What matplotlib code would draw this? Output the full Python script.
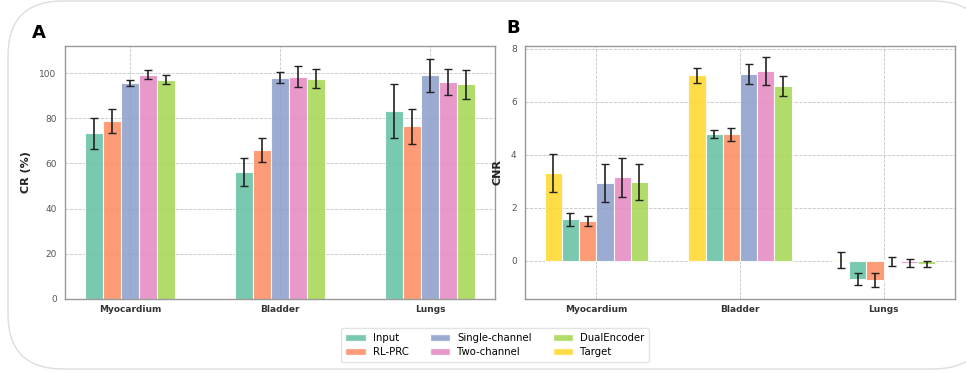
import matplotlib
matplotlib.use("Agg")
import matplotlib.pyplot as plt
from matplotlib.patches import FancyBboxPatch, Patch
import numpy as np

categories = ["Myocardium", "Bladder", "Lungs"]

# Panel A: CR (%)
cr_methods = ["Input", "RL-PRC", "Single-channel", "Two-channel", "DualEncoder"]
cr_input = [73.3, 56.2, 83.2]
cr_input_err = [6.8, 6.3, 12.1]
cr_rlprc = [78.8, 65.8, 76.5]
cr_rlprc_err = [5.5, 5.3, 7.7]
cr_single = [95.6, 97.9, 99.0]
cr_single_err = [1.2, 2.4, 7.2]
cr_two = [99.3, 98.4, 95.9]
cr_two_err = [2.1, 4.6, 5.8]
cr_dual = [97.0, 97.6, 95.0]
cr_dual_err = [2.0, 4.4, 6.4]

# Panel B: CNR
cnr_methods = ["Target", "Input", "RL-PRC", "Single-channel", "Two-channel", "DualEncoder"]
cnr_target = [3.31, 7.00, 0.02]
cnr_target_err = [0.71, 0.28, 0.30]
cnr_input = [1.56, 4.79, -0.70]
cnr_input_err = [0.25, 0.15, 0.23]
cnr_rlprc = [1.49, 4.78, -0.74]
cnr_rlprc_err = [0.20, 0.25, 0.26]
cnr_single = [2.94, 7.06, -0.02]
cnr_single_err = [0.72, 0.37, 0.17]
cnr_two = [3.15, 7.16, -0.09]
cnr_two_err = [0.73, 0.52, 0.15]
cnr_dual = [2.96, 6.60, -0.13]
cnr_dual_err = [0.68, 0.38, 0.10]

colors = {
    "Input": "#66c2a5",
    "RL-PRC": "#fc8d62",
    "Single-channel": "#8da0cb",
    "Two-channel": "#e78ac3",
    "DualEncoder": "#a6d854",
    "Target": "#ffd92f",
}

W, H = 966, 373
fig = plt.figure(figsize=(W / 100, H / 100), dpi=100)

# rounded frame (inches)
frame = FancyBboxPatch((0.08, 0.04), 9.8, 3.68,
                       boxstyle="round,pad=0,rounding_size=0.55",
                       transform=fig.dpi_scale_trans, facecolor="white",
                       edgecolor="#dddddd", linewidth=1.0, zorder=-10)
fig.patches.append(frame)

axA = fig.add_axes([65 / W, 1 - 299 / H, (495 - 65) / W, (299 - 46) / H])
axB = fig.add_axes([525 / W, 1 - 299 / H, (955 - 525) / W, (299 - 46) / H])

width = 0.12
x = np.arange(len(categories))


def draw(ax, methods, vals, errs):
    n = len(methods)
    for i, (m, v, e) in enumerate(zip(methods, vals, errs)):
        off = (i - (n - 1) / 2) * width
        ax.bar(x + off, v, width, color=colors[m], alpha=0.88,
               edgecolor="white", linewidth=0.8, zorder=2)
        ax.errorbar(x + off, v, yerr=e, fmt="none", ecolor="#222222",
                    elinewidth=1.2, capsize=3, capthick=1.0, zorder=3)


draw(axA, cr_methods,
     [cr_input, cr_rlprc, cr_single, cr_two, cr_dual],
     [cr_input_err, cr_rlprc_err, cr_single_err, cr_two_err, cr_dual_err])
draw(axB, cnr_methods,
     [cnr_target, cnr_input, cnr_rlprc, cnr_single, cnr_two, cnr_dual],
     [cnr_target_err, cnr_input_err, cnr_rlprc_err, cnr_single_err, cnr_two_err, cnr_dual_err])

axA.set_xlim(-0.433, 2.433)
axA.set_ylim(0, 112)
axA.set_yticks([0, 20, 40, 60, 80, 100])
axB.set_xlim(-0.496, 2.496)
axB.set_ylim(-1.45, 8.11)
axB.set_yticks([0, 2, 4, 6, 8])

for ax, lab in ((axA, "CR (%)"), (axB, "CNR")):
    ax.set_xticks(x)
    ax.set_xticklabels(categories, fontsize=6.5, fontweight="bold", color="#333333")
    ax.tick_params(axis="y", labelsize=6.5, labelcolor="#555555", length=0, pad=6)
    ax.tick_params(axis="x", length=0, pad=4)
    ax.set_ylabel(lab, fontsize=8, fontweight="bold", color="#222222", labelpad=6)
    ax.grid(True, linestyle="--", color="#c4c4c4", linewidth=0.6, zorder=0)
    ax.set_axisbelow(True)
    for s in ax.spines.values():
        s.set_color("#999999")
        s.set_linewidth(1.0)

fig.text(32 / W, 1 - 33 / H, "A", fontsize=13, fontweight="bold", va="center", ha="left")
fig.text(506 / W, 1 - 28 / H, "B", fontsize=13, fontweight="bold", va="center", ha="left")

legend_order = ["Input", "RL-PRC", "Single-channel", "Two-channel", "DualEncoder", "Target"]
handles = [Patch(facecolor=colors[m], alpha=0.88, edgecolor="white", label=m) for m in legend_order]
fig.legend(handles=handles, loc="center", bbox_to_anchor=(495 / W, 1 - 345 / H),
           ncol=3, fontsize=7.3, frameon=True, edgecolor="#dddddd",
           handlelength=2.0, handleheight=0.6, handletextpad=0.7,
           columnspacing=2.1, labelspacing=0.4, borderpad=0.45)

fig.savefig("out.png", dpi=100)
